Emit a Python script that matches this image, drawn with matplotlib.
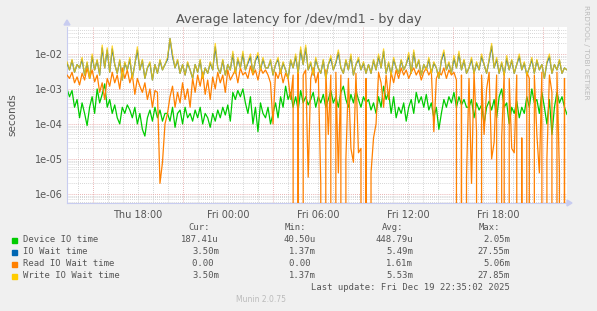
import numpy as np
import matplotlib
matplotlib.use("Agg")
import matplotlib.pyplot as plt
from matplotlib.patches import Rectangle, Polygon

# ---------------- data (milliseconds) ----------------
start_hour = 13.27   # Thu 13:16 (hours since Thu 00:00)
end_hour = 46.58     # Fri 22:35

write_wait_ms = [6, 3.5, 7, 3, 5, 4, 8, 2.5, 6, 2, 10, 3.5, 7, 2.5, 18, 4, 15, 3, 17, 5, 2.8, 7, 1.8, 6, 3.5, 8, 2, 5, 16, 3.5, 7, 2, 4, 6, 1.8, 5, 2.8, 7, 3.5, 5,
                 8, 27.85, 10, 4, 7, 2.8, 5, 2.5, 6, 3.5, 2, 5, 3, 7, 2, 4, 2.8, 6, 3.5, 20, 4, 2.8, 7, 2.5, 5, 3.5, 12, 2.8, 8, 4, 12, 3.5, 6, 10, 2.8, 7, 11, 3.5, 8, 4,
                 4, 7, 2.5, 5, 8, 2.8, 6, 3.5, 2, 7, 4, 10, 2.8, 16, 5, 18, 3.5, 6, 2.5, 8, 4, 2.8, 7, 2, 5, 9, 3.5, 6, 13, 4, 2.8, 7, 3.5, 10, 2.5, 5, 8, 3.5, 6, 2.8,
                 5, 2.8, 7, 3.5, 10, 4, 14, 2.8, 6, 2.5, 8, 4, 2.8, 7, 3.5, 5, 11, 2.8, 13, 4, 7, 2.5, 5, 3.5, 8, 2.8, 6, 4, 2, 7, 13, 3.5, 6, 2.8, 9, 4, 12, 3.5, 7, 2.8,
                 4, 8, 2.8, 6, 3.5, 10, 5, 2.8, 7, 20, 4, 8, 2.8, 6, 2.5, 9, 3.5, 7, 2.8, 5, 10, 3.5, 6, 2.5, 4, 8, 2.8, 7, 3.5, 5, 2, 6, 10, 2.8, 5, 3.5, 7, 2.8, 4, 3.5]

io_wait_ms = [5.5, 3.5, 6.5, 3, 5, 4, 7, 2.5, 5.5, 2, 8.5, 3.5, 6.5, 2.5, 15, 4, 13, 3, 14, 5, 2.8, 6.5, 1.8, 5.5, 3.5, 7, 2, 5, 13, 3.5, 6.5, 2, 4, 5.5, 1.8, 5, 2.8, 6.5, 3.5, 5,
              7, 27.55, 8.5, 4, 6.5, 2.8, 5, 2.5, 5.5, 3.5, 2, 5, 3, 6.5, 2, 4, 2.8, 5.5, 3.5, 16, 4, 2.8, 6.5, 2.5, 5, 3.5, 10, 2.8, 7, 4, 10, 3.5, 5.5, 8.5, 2.8, 6.5, 9, 3.5, 7, 4,
              4, 6.5, 2.5, 5, 7, 2.8, 5.5, 3.5, 2, 6.5, 4, 8.5, 2.8, 13, 5, 15, 3.5, 5.5, 2.5, 7, 4, 2.8, 6.5, 2, 5, 7.5, 3.5, 5.5, 11, 4, 2.8, 6.5, 3.5, 8.5, 2.5, 5, 7, 3.5, 5.5, 2.8,
              5, 2.8, 6.5, 3.5, 8.5, 4, 12, 2.8, 5.5, 2.5, 7, 4, 2.8, 6.5, 3.5, 5, 9, 2.8, 11, 4, 6.5, 2.5, 5, 3.5, 7, 2.8, 5.5, 4, 2, 6.5, 11, 3.5, 5.5, 2.8, 7.5, 4, 10, 3.5, 6.5, 2.8,
              4, 7, 2.8, 5.5, 3.5, 8.5, 5, 2.8, 6.5, 17, 4, 7, 2.8, 5.5, 2.5, 7.5, 3.5, 6.5, 2.8, 5, 8.5, 3.5, 5.5, 2.5, 4, 7, 2.8, 6.5, 3.5, 5, 2, 5.5, 8.5, 2.8, 5, 3.5, 6.5, 2.8, 4, 3.5]

read_wait_ms = [2.5, 2, 3, 1.5, 2.2, 1.3, 2.8, 1.8, 4, 2, 3.5, 1.6, 2.5, 0.8, 1.5, 0.5, 2, 1.2, 3, 1.5, 2.5, 1, 4, 2, 3.5, 1.5, 2.5, 0.7, 2, 1.2, 0.8, 1.5, 0.5, 1, 0.3, 0.9, 0.8, 0.002, 0.008, 0.1,
                0.2, 0.6, 1.2, 0.3, 0.8, 0.4, 1.5, 0.5, 1.0, 0.3, 2, 0.8, 2.5, 1.2, 3, 0.7, 1.8, 0.5, 2.2, 1, 3, 1.5, 2.5, 0.8, 3.5, 1.8, 2.5, 3.5, 1.5, 4, 2.5, 3, 2, 4.5, 2.5, 3.5, 1.8, 4, 2.8, 3.5,
                2.5, 1.5, 0.1, 3, 2, 3.5, 1.5, 2.8, 2, 0.5, 2.5, 0, 3, 0, 2.5, 3.5, 0.003, 2, 4, 1.5, 3, 0.002, 0, 3.5, 0.05, 2.5, 0, 3, 0.004, 2.5, 0, 0.01, 2, 0.02, 0.008, 2.8, 0.015, 0.02, 0, 2,
                0, 0.004, 0.04, 0.1, 3, 1.5, 0.3, 2.5, 0.5, 3, 1.5, 3.5, 2, 4, 2.5, 3.5, 2, 3, 4, 2.5, 3.5, 1.8, 3, 4, 2.5, 3.5, 0.06, 2, 3, 2.5, 4, 2, 3.5, 2.5, 3, 1.8, 0, 2.5, 0, 0.003,
                2, 0.002, 3, 0.06, 0, 2.5, 0.05, 1, 3, 0.01, 0.03, 2.5, 0, 0.04, 3, 0, 2, 0.02, 0.015, 2.5, 0, 0.04, 0, 3, 2, 0, 2.5, 0.05, 0.004, 3, 0, 0.01, 2.5, 0.8, 0, 3, 0.004, 0, 2, 0]

device_ms = [1.0, 0.6, 0.9, 0.3, 0.5, 0.15, 0.4, 0.2, 0.09, 0.3, 0.6, 0.2, 1.0, 0.4, 0.7, 1.4, 0.3, 0.5, 0.2, 0.35, 0.15, 0.1, 0.3, 0.2, 0.35, 0.25, 0.15, 0.3, 0.1, 0.2, 0.07, 0.045, 0.15, 0.25, 0.12, 0.3, 0.15, 0.25, 0.12, 0.2,
             0.2, 0.12, 0.3, 0.08, 0.2, 0.25, 0.1, 0.3, 0.15, 0.2, 0.12, 0.25, 0.15, 0.3, 0.1, 0.2, 0.15, 0.08, 0.2, 0.12, 0.25, 0.15, 0.3, 0.18, 0.35, 0.12, 0.8, 0.5, 0.9, 0.6, 1.0, 0.4, 0.2, 0.6, 0.1, 0.3, 0.06, 0.4, 0.2, 0.15,
             0.3, 0.1, 0.2, 0.4, 0.15, 0.6, 0.3, 1.2, 0.5, 0.8, 0.3, 0.6, 0.25, 0.9, 0.4, 0.6, 0.35, 0.5, 0.8, 0.3, 0.6, 0.4, 0.7, 0.3, 0.5, 0.9, 0.4, 0.6, 0.3, 0.8, 1.2, 0.5, 0.3, 0.7, 0.4, 0.9, 0.5, 0.3, 0.6, 0.4,
             0.5, 0.25, 0.4, 0.2, 0.6, 0.3, 1.2, 0.5, 0.8, 0.2, 0.6, 0.15, 0.3, 0.2, 0.4, 0.12, 0.3, 0.5, 0.2, 0.8, 0.4, 0.6, 0.3, 0.7, 0.25, 0.4, 0.15, 0.3, 0.07, 0.2, 0.5, 0.3, 0.6, 0.4, 0.8, 0.3, 0.6, 0.35, 0.5, 0.3,
             0.3, 0.5, 0.15, 0.4, 0.25, 0.35, 0.1, 0.3, 0.45, 0.25, 0.5, 0.15, 0.6, 1.0, 0.3, 0.4, 0.1, 0.3, 0.2, 0.45, 0.15, 0.3, 0.2, 0.6, 0.3, 1.0, 0.4, 0.5, 0.2, 0.8, 0.3, 0.1, 0.5, 0.05, 0.3, 0.8, 0.4, 0.6, 0.3, 0.187]

series_names = ["Device IO time", "IO Wait time", "Read IO Wait time", "Write IO Wait time"]
series_colors = ["#00CC00", "#0066B3", "#FF8000", "#FFCC00"]
cur_vals = ["187.41u", "3.50m", "0.00 ", "3.50m"]
min_vals = ["40.50u", "1.37m", "0.00 ", "1.37m"]
avg_vals = ["448.79u", "5.49m", "1.61m", "5.53m"]
max_vals = ["2.05m", "27.55m", "5.06m", "27.85m"]

tick_hours = [18, 24, 30, 36, 42]
tick_labels = ["Thu 18:00", "Fri 00:00", "Fri 06:00", "Fri 12:00", "Fri 18:00"]
major_hours = [15, 21, 27, 33, 39, 45]

# ---------------- figure ----------------
W, H = 597, 311
fig = plt.figure(figsize=(W / 100, H / 100), dpi=100, facecolor="#F0F0F0")

def fx(x):
    return x / W

def fy(y):
    return 1 - y / H

L, R, T, B = 67, 567, 27, 203
ax = fig.add_axes([fx(L), fy(B), (R - L) / W, (B - T) / H])
ax.set_facecolor("white")

n = len(write_wait_ms)
t = np.linspace(start_hour, end_hour, n)

def sec(v):
    return np.array(v, dtype=float) / 1000.0

ax.set_yscale("log", nonpositive="clip")
ax.set_xlim(start_hour, end_hour)
ax.set_ylim(5.5e-7, 5.9e-2)

# grid
minor_c = "#C8C8C8"
major_c = "#E39A9A"
dots = (0, (1, 1.5))
for h in range(14, 47):
    if h not in major_hours:
        ax.axvline(h, color=minor_c, lw=0.6, ls=dots, zorder=0)
for h in major_hours:
    ax.axvline(h, color=major_c, lw=0.6, ls=dots, zorder=0)
for d in range(-7, -1):
    for m in range(2, 10):
        v = m * 10.0 ** d
        if 5.5e-7 < v < 5.9e-2:
            ax.axhline(v, color=minor_c, lw=0.6, ls=dots, zorder=0)
for d in range(-6, -1):
    ax.axhline(10.0 ** d, color=major_c, lw=0.6, ls=dots, zorder=0)

# series
ax.plot(t, sec(device_ms), color=series_colors[0], lw=0.9, zorder=2)
ax.plot(t, sec(io_wait_ms), color=series_colors[1], lw=0.9, zorder=3)
ax.plot(t, sec(read_wait_ms), color=series_colors[2], lw=0.9, zorder=4)
ax.plot(t, sec(write_wait_ms), color=series_colors[3], lw=0.9, alpha=0.8, zorder=5)

# axes styling
for s in ["top", "right"]:
    ax.spines[s].set_visible(False)
axis_c = "#C8CCF0"
ax.spines["left"].set_color(axis_c)
ax.spines["bottom"].set_color(axis_c)
ax.spines["left"].set_linewidth(0.8)
ax.spines["bottom"].set_linewidth(0.8)

ax.set_yticks([1e-6, 1e-5, 1e-4, 1e-3, 1e-2])
ax.set_yticklabels(["1e-06", "1e-05", "1e-04", "1e-03", "1e-02"])
ax.yaxis.set_minor_locator(matplotlib.ticker.NullLocator())
ax.set_xticks(tick_hours)
ax.set_xticklabels(tick_labels)
ax.tick_params(axis="both", length=0, labelsize=7, labelcolor="#555555", pad=3)
ax.tick_params(axis="x", pad=5)

# arrows
fig.patches.append(Polygon([[fx(64), fy(25)], [fx(70), fy(25)], [fx(67), fy(20)]],
                           closed=True, transform=fig.transFigure, color=axis_c, figure=fig))
fig.patches.append(Polygon([[fx(567), fy(200)], [fx(567), fy(206)], [fx(572), fy(203)]],
                           closed=True, transform=fig.transFigure, color=axis_c, figure=fig))

# texts
fig.text(0.5, fy(19), "Average latency for /dev/md1 - by day", ha="center", va="center",
         fontsize=9.2, color="#555555", family="DejaVu Sans")
fig.text(fx(12), fy(115), "seconds", rotation=90, ha="center", va="center",
         fontsize=7.5, color="#555555", family="DejaVu Sans")
fig.text(fx(586), fy(52), "RRDTOOL / TOBI OETIKER", rotation=270, ha="center", va="center",
         fontsize=5.3, color="#BBBBBB", family="DejaVu Sans")

mono = dict(family="DejaVu Sans Mono", fontsize=6.4, color="#555555", va="center")
headers = ["Cur:", "Min:", "Avg:", "Max:"]
header_x = [188, 285, 382, 479]
col_right = [219, 316, 413, 510]
for hx, htxt in zip(header_x, headers):
    fig.text(fx(hx), fy(228), htxt, ha="left", **mono)
row_y = [240, 252, 264, 276]
for i, name in enumerate(series_names):
    y = row_y[i]
    fig.patches.append(Rectangle((fx(12), fy(y + 2.5)), 5 / W, 5 / H, transform=fig.transFigure,
                                 color=series_colors[i], figure=fig))
    fig.text(fx(23), fy(y), name, ha="left", **mono)
    for cx, vals in zip(col_right, [cur_vals, min_vals, avg_vals, max_vals]):
        fig.text(fx(cx), fy(y), vals[i], ha="right", **mono)
fig.text(fx(510), fy(288), "Last update: Fri Dec 19 22:35:02 2025", ha="right", **mono)
fig.text(fx(261), fy(300), "Munin 2.0.75", ha="center", va="center", fontsize=5.5,
         color="#BBBBBB", family="DejaVu Sans")

fig.savefig("out.png", dpi=100, facecolor=fig.get_facecolor())
